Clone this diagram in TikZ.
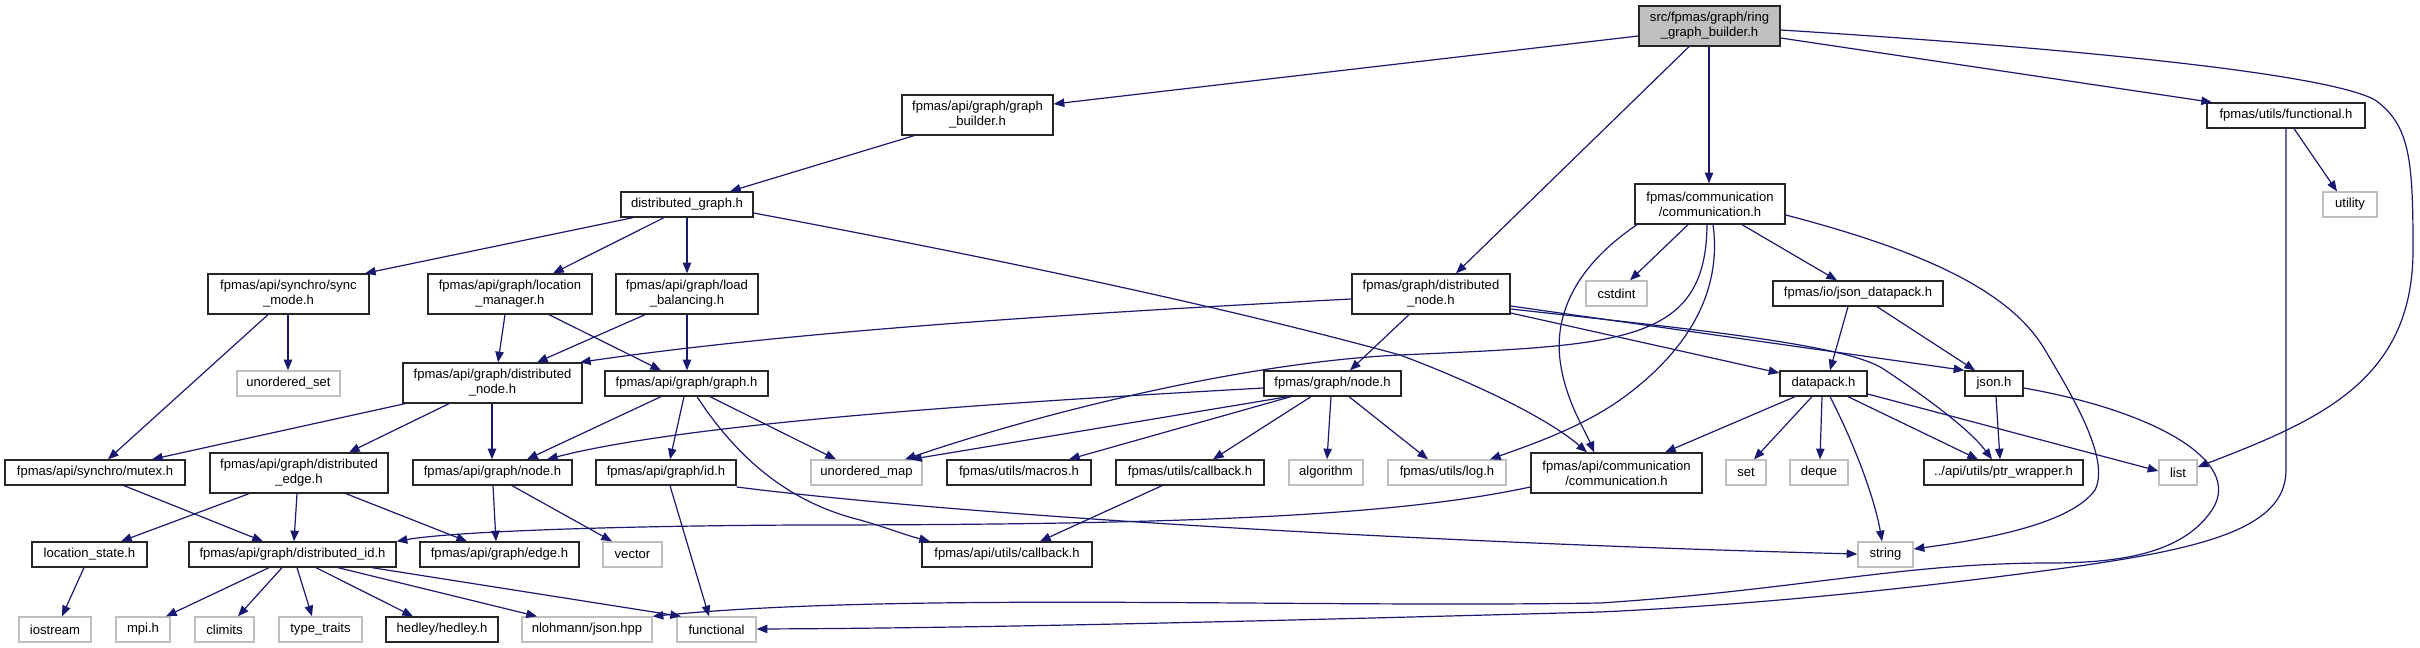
\documentclass[tikz,border=0pt]{standalone}
\usepackage{fontspec}
\setmainfont{Liberation Sans}
\usetikzlibrary{arrows.meta}
\definecolor{edgec}{HTML}{191970}
\definecolor{greyb}{HTML}{BFBFBF}
\definecolor{rootf}{HTML}{BFBFBF}
\definecolor{bordc}{HTML}{262626}
\newcommand\bx[7]{%
  \pgfmathsetmacro\bxw{(#5-#3)*0.75}%
  \pgfmathsetmacro\bxh{(#6-#4)*0.75}%
  \node[#1, minimum width=\bxw pt, minimum height=\bxh pt] (#2) at ({(#3+#5)/2},{(#4+#6)/2}) {#7};}
\tikzset{
  nbox/.style={draw=bordc, line width=1pt, fill=white, inner sep=0pt, align=center,
    font=\fontsize{9.8pt}{11.25pt}\selectfont},
  ext/.style={nbox, draw=greyb},
  rootbox/.style={nbox, fill=rootf},
  edg/.style={draw=edgec, line width=0.9pt, -{Triangle[length=8pt,width=6.3pt]}}
}
\begin{document}
\begin{tikzpicture}[x=0.75pt,y=-0.75pt]
\useasboundingbox[fill=white] (0,0) rectangle (2420,648);
% nodes
\bx{rootbox}{root}{1639}{6}{1780}{46}{src/fpmas/graph/ring\\\_graph\_builder.h}
\bx{nbox}{gb}{902}{95}{1053}{135}{fpmas/api/graph/graph\\\_builder.h}
\bx{nbox}{fun}{2207}{103}{2365}{128}{fpmas/utils/functional.h}
\bx{nbox}{dg}{621}{192}{753}{217}{distributed\_graph.h}
\bx{nbox}{comm}{1635}{184}{1785}{224}{fpmas/communication\\/communication.h}
\bx{ext}{util}{2323}{192}{2377}{217}{utility}
\bx{nbox}{sync}{208}{274}{369}{314}{fpmas/api/synchro/sync\\\_mode.h}
\bx{nbox}{lm}{428}{274}{592}{314}{fpmas/api/graph/location\\\_manager.h}
\bx{nbox}{lb}{616}{274}{758}{314}{fpmas/api/graph/load\\\_balancing.h}
\bx{nbox}{gdn}{1352}{274}{1510}{314}{fpmas/graph/distributed\\\_node.h}
\bx{ext}{cstd}{1586}{281}{1647}{306}{cstdint}
\bx{nbox}{jdp}{1773}{281}{1943}{306}{fpmas/io/json\_datapack.h}
\bx{ext}{uset}{237}{371}{340}{396}{unordered\_set}
\bx{nbox}{adn}{403}{363}{582}{403}{fpmas/api/graph/distributed\\\_node.h}
\bx{nbox}{graph}{605}{371}{768}{396}{fpmas/api/graph/graph.h}
\bx{nbox}{gnode}{1264}{371}{1401}{396}{fpmas/graph/node.h}
\bx{nbox}{dp}{1780}{371}{1867}{396}{datapack.h}
\bx{nbox}{json}{1965}{371}{2023}{396}{json.h}
\bx{nbox}{mutex}{5}{460}{185}{485}{fpmas/api/synchro/mutex.h}
\bx{nbox}{dedge}{210}{453}{388}{493}{fpmas/api/graph/distributed\\\_edge.h}
\bx{nbox}{anode}{413}{460}{572}{485}{fpmas/api/graph/node.h}
\bx{nbox}{id}{596}{460}{736}{485}{fpmas/api/graph/id.h}
\bx{ext}{umap}{811}{460}{922}{485}{unordered\_map}
\bx{nbox}{macros}{947}{460}{1091}{485}{fpmas/utils/macros.h}
\bx{nbox}{ucb}{1116}{460}{1264}{485}{fpmas/utils/callback.h}
\bx{ext}{algo}{1289}{460}{1363}{485}{algorithm}
\bx{ext}{log}{1388}{460}{1506}{485}{fpmas/utils/log.h}
\bx{nbox}{acomm}{1531}{453}{1702}{493}{fpmas/api/communication\\/communication.h}
\bx{ext}{set}{1726}{460}{1766}{485}{set}
\bx{ext}{deque}{1790}{460}{1848}{485}{deque}
\bx{nbox}{ptr}{1924}{460}{2083}{485}{../api/utils/ptr\_wrapper.h}
\bx{ext}{list}{2159}{460}{2197}{485}{list}
\bx{nbox}{lstate}{32}{542}{147}{567}{location\_state.h}
\bx{nbox}{did}{189}{542}{396}{567}{fpmas/api/graph/distributed\_id.h}
\bx{nbox}{edge}{420}{542}{579}{567}{fpmas/api/graph/edge.h}
\bx{ext}{vector}{603}{542}{662}{567}{vector}
\bx{nbox}{acb}{922}{542}{1092}{567}{fpmas/api/utils/callback.h}
\bx{ext}{string}{1858}{542}{1913}{567}{string}
\bx{ext}{iostream}{19}{617}{91}{642}{iostream}
\bx{ext}{mpi}{116}{617}{170}{642}{mpi.h}
\bx{ext}{climits}{195}{617}{254}{642}{climits}
\bx{ext}{tt}{279}{617}{362}{642}{type\_traits}
\bx{nbox}{hedley}{386}{617}{498}{642}{hedley/hedley.h}
\bx{ext}{nloh}{522}{617}{652}{642}{nlohmann/json.hpp}
\bx{ext}{functional}{677}{617}{756}{642}{functional}
% edges from root
\draw[edg] (root.west |- 0,36) -- (gb.east |- 0,104);
\draw[edg] (root.south -| 1689,0) -- (gdn.north -| 1456,0);
\draw[edg] (root.south -| 1709,0) -- (comm.north -| 1709,0);
\draw[edg] (root.east |- 0,38) -- (fun.north -| 2212,0);
\draw[edg] (root.east |- 0,30) .. controls (2100,50) and (2330,75) .. (2375,100) .. controls (2410,125) and (2413,160) .. (2413,250) .. controls (2413,380) and (2320,420) .. (list.east |- 0,467);
% graph builder / distributed graph
\draw[edg] (gb.south -| 914,0) -- (dg.north -| 730,0);
\draw[edg] (dg.south -| 633,0) -- (sync.north -| 365,0);
\draw[edg] (dg.south -| 664,0) -- (lm.north -| 553,0);
\draw[edg] (dg.south -| 687,0) -- (lb.north -| 687,0);
\draw[edg] (dg.east |- 0,213) .. controls (950,250) and (1200,300) .. (1400,355) .. controls (1480,385) and (1550,420) .. (acomm.north -| 1587,0);
\draw[edg] (sync.south -| 288,0) -- (uset.north -| 288,0);
\draw[edg] (sync.south -| 268,0) -- (mutex.north -| 108,0);
\draw[edg] (lm.south -| 505,0) -- (adn.north -| 498,0);
\draw[edg] (lm.south -| 549,0) -- (graph.north -| 661,0);
\draw[edg] (lb.south -| 645,0) -- (adn.north -| 537,0);
\draw[edg] (lb.south -| 687,0) -- (graph.north -| 687,0);
% graph/distributed_node
\draw[edg] (gdn.west |- 0,299) .. controls (1100,312) and (800,330) .. (adn.north -| 580,0);
\draw[edg] (gdn.south -| 1409,0) -- (gnode.north -| 1350,0);
\draw[edg] (gdn.east |- 0,313) -- (dp.west |- 0,373);
\draw[edg] (gdn.east |- 0,306) -- (json.north west);
\draw[edg] (gdn.east |- 0,309) .. controls (1700,330) and (1850,345) .. (1885,370) .. controls (1930,400) and (1970,430) .. (ptr.north -| 1992,0);
% graph/node
\draw[edg] (gnode.west |- 0,388) .. controls (1050,400) and (700,420) .. (anode.north -| 547,0);
\draw[edg] (gnode.south -| 1288,0) -- (umap.north -| 911,0);
\draw[edg] (gnode.south -| 1291,0) -- (macros.north -| 1069,0);
\draw[edg] (gnode.south -| 1311,0) -- (ucb.north -| 1213,0);
\draw[edg] (gnode.south -| 1331,0) -- (algo.north -| 1327,0);
\draw[edg] (gnode.south -| 1349,0) -- (log.north -| 1428,0);
\draw[edg] (ucb.south -| 1162,0) -- (acb.north -| 1040,0);
% communication
\draw[edg] (comm.south -| 1688,0) -- (cstd.north -| 1630,0);
\draw[edg] (comm.south -| 1742,0) -- (jdp.north -| 1837,0);
\draw[edg] (comm.east |- 0,215) .. controls (1920,250) and (2010,290) .. (2045,350) .. controls (2075,400) and (2110,460) .. (2095,490) .. controls (2070,525) and (1980,540) .. (string.east |- 0,549);
\draw[edg] (comm.south -| 1637,0) .. controls (1570,270) and (1555,320) .. (1560,360) .. controls (1565,400) and (1585,430) .. (acomm.north -| 1594,0);
\draw[edg] (comm.south -| 1707,0) .. controls (1706,345) and (1620,345) .. (1400,355) .. controls (1250,362) and (1050,410) .. (umap.north -| 905,0);
\draw[edg] (comm.south -| 1713,0) .. controls (1722,290) and (1690,350) .. (1620,400) .. controls (1580,428) and (1530,445) .. (log.north -| 1490,0);
% json_datapack, datapack, json
\draw[edg] (jdp.south -| 1848,0) -- (dp.north -| 1830,0);
\draw[edg] (jdp.south -| 1877,0) -- (json.north -| 1975,0);
\draw[edg] (dp.south -| 1795,0) -- (acomm.north -| 1665,0);
\draw[edg] (dp.south -| 1812,0) -- (set.north -| 1754,0);
\draw[edg] (dp.south -| 1822,0) -- (deque.north -| 1820,0);
\draw[edg] (dp.south -| 1830,0) .. controls (1855,445) and (1875,500) .. (string.north -| 1882,0);
\draw[edg] (dp.south -| 1848,0) -- (ptr.north -| 1978,0);
\draw[edg] (dp.east |- 0,394) -- (list.west |- 0,471);
\draw[edg] (json.south -| 1996,0) -- (ptr.north -| 2000,0);
\draw[edg] (json.east |- 0,388) .. controls (2150,410) and (2245,460) .. (2212,510) .. controls (2185,550) and (2130,563) .. (2050,563) .. controls (1900,563) and (1800,590) .. (1600,603) .. controls (1300,608) and (900,592) .. (nloh.north east);
% functional.h
\draw[edg] (fun.south -| 2294,0) -- (util.north -| 2337,0);
\draw[edg] (fun.south -| 2286,0) -- (2286,470) .. controls (2286,530) and (2200,550) .. (2050,570) .. controls (1900,590) and (1750,605) .. (1600,612) .. controls (1300,620) and (1000,628) .. (functional.east |- 0,629);
% api graph
\draw[edg] (graph.south -| 661,0) -- (anode.north -| 527,0);
\draw[edg] (graph.south -| 684,0) -- (id.north -| 670,0);
\draw[edg] (graph.south -| 710,0) -- (umap.north -| 836,0);
\draw[edg] (graph.south -| 697,0) .. controls (745,470) and (800,505) .. (860,520) .. controls (885,527) and (905,535) .. (acb.north -| 930,0);
\draw[edg] (adn.south -| 405,0) -- (mutex.north -| 152,0);
\draw[edg] (adn.south -| 449,0) -- (dedge.north -| 349,0);
\draw[edg] (adn.south -| 492,0) -- (anode.north -| 492,0);
\draw[edg] (anode.south -| 493,0) -- (edge.north -| 496,0);
\draw[edg] (anode.south -| 512,0) -- (vector.north -| 612,0);
\draw[edg] (id.south -| 670,0) -- (functional.north -| 709,0);
\draw[edg] (id.east |- 0,487) .. controls (1000,520) and (1500,545) .. (string.west |- 0,554);
\draw[edg] (mutex.south -| 124,0) -- (did.north -| 263,0);
\draw[edg] (dedge.south -| 249,0) -- (lstate.north -| 121,0);
\draw[edg] (dedge.south -| 297,0) -- (did.north -| 294,0);
\draw[edg] (dedge.south -| 346,0) -- (edge.north -| 467,0);
\draw[edg] (lstate.south -| 84,0) -- (iostream.north -| 62,0);
\draw[edg] (did.south -| 269,0) -- (mpi.north -| 166,0);
\draw[edg] (did.south -| 282,0) -- (climits.north -| 238,0);
\draw[edg] (did.south -| 297,0) -- (tt.north -| 312,0);
\draw[edg] (did.south -| 316,0) -- (hedley.north -| 413,0);
\draw[edg] (did.south -| 338,0) -- (nloh.north -| 537,0);
\draw[edg] (did.south -| 372,0) -- (functional.north -| 681,0);
\draw[edg] (acomm.west |- 0,487) .. controls (1400,515) and (1200,525) .. (800,525) .. controls (600,526) and (450,532) .. (did.north east);
\end{tikzpicture}
\end{document}
